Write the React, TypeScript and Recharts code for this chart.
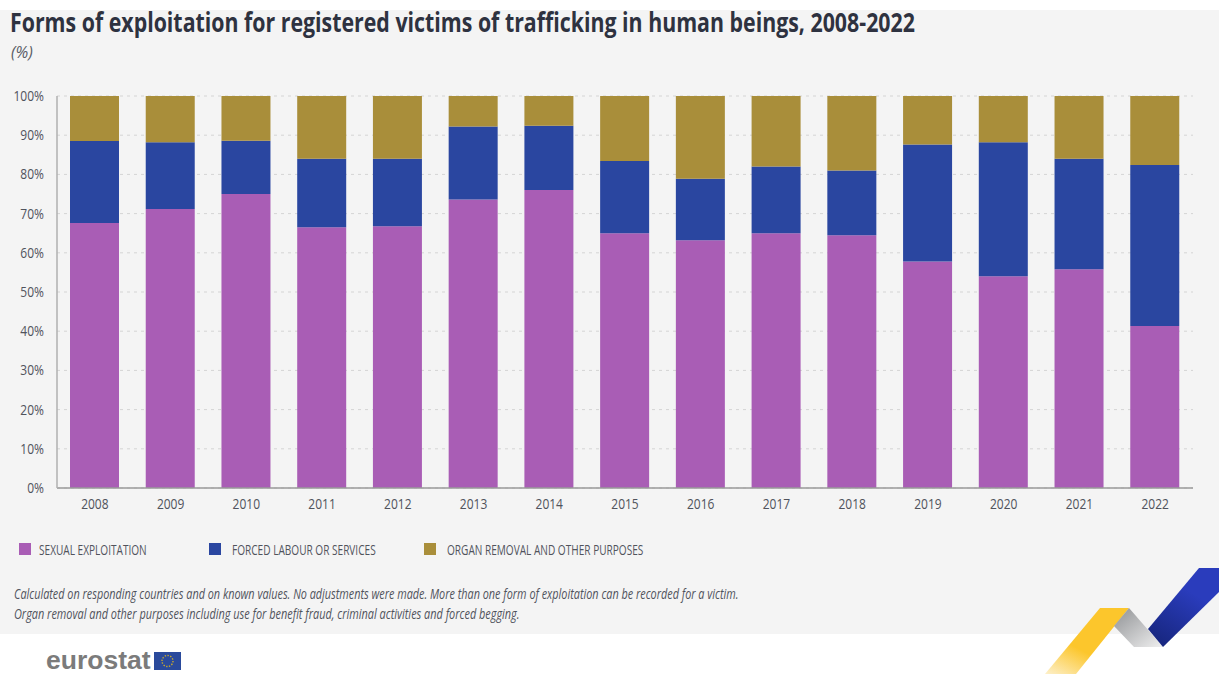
import React from "react";
import { BarChart, Bar, XAxis, YAxis, CartesianGrid, Legend } from "recharts";

const years = ["2008","2009","2010","2011","2012","2013","2014","2015","2016","2017","2018","2019","2020","2021","2022"];
const sexual = [67.6,71.2,75.0,66.5,66.8,73.6,76.0,65.0,63.2,65.0,64.5,57.8,54.0,55.8,41.3];
const forced = [20.9,17.0,13.6,17.5,17.2,18.6,16.4,18.4,15.7,17.0,16.5,29.8,34.2,28.2,41.1];
const organ = [11.5,11.8,11.4,16.0,16.0,7.8,7.6,16.6,21.1,18.0,19.0,12.4,11.8,16.0,17.6];
const yTicks = [0,10,20,30,40,50,60,70,80,90,100];

const SEXUAL_LABEL = "SEXUAL EXPLOITATION";
const FORCED_LABEL = "FORCED LABOUR OR SERVICES";
const ORGAN_LABEL = "ORGAN REMOVAL AND OTHER PURPOSES";
const TITLE = "Forms of exploitation for registered victims of trafficking in human beings, 2008-2022";
const UNIT = "(%)";
const NOTE_1 = "Calculated on responding countries and on known values. No adjustments were made. More than one form of exploitation can be recorded for a victim.";
const NOTE_2 = "Organ removal and other purposes including use for benefit fraud, criminal activities and forced begging.";

const rows = years.map((year, i) => ({ year, sexual: sexual[i], forced: forced[i], organ: organ[i] }));

const FONT = "'Open Sans', sans-serif";
const legendLeft = [19, 209, 424];
const legendGap = [8, 11, 11];

// The house typeface is condensed, so text is narrowed horizontally.
const narrow = (k: number): React.CSSProperties => ({
  transform: `scaleX(${k})`,
  transformOrigin: "left center",
  display: "inline-block",
  whiteSpace: "nowrap",
});

function XTick({ x, y, payload }: any) {
  return (
    <text transform={`translate(${x},${y + 13}) scale(0.8,1)`} textAnchor="middle" fontFamily={FONT} fontSize={15} fill="#50535c">
      {payload.value}
    </text>
  );
}

function YTick({ x, y, payload }: any) {
  return (
    <text transform={`translate(${x - 5},${y + 5}) scale(0.8,1)`} textAnchor="end" fontFamily={FONT} fontSize={15} fill="#50535c">
      {`${payload.value}%`}
    </text>
  );
}

// Legend entries sit at fixed columns below the axis.
function LegendRow({ payload }: any) {
  return (
    <div style={{ position: "relative", height: 16, width: 900 }}>
      {(payload || []).map((item: any, i: number) => (
        <div key={item.value} style={{ position: "absolute", left: legendLeft[i], top: 0, display: "flex", alignItems: "center", height: 16 }}>
          <span style={{ width: 12, height: 12, background: item.color, display: "block", marginRight: legendGap[i] }} />
          <span style={{ fontFamily: FONT, fontSize: 14, color: "#50535c", ...narrow(0.72) }}>{item.value}</span>
        </div>
      ))}
    </div>
  );
}

export default function App() {
  return (
    <div style={{ position: "absolute", left: 0, top: 0, width: 1219, height: 674, background: "#ffffff", overflow: "hidden" }}>
      <div style={{ position: "absolute", left: 0, top: 10, width: 1219, height: 624, background: "#f4f4f4" }} />
      <div style={{ position: "absolute", left: 10, top: 4, fontFamily: FONT, fontWeight: 700, fontSize: 26.5, color: "#2e3240", ...narrow(0.805) }}>{TITLE}</div>
      <div style={{ position: "absolute", left: 11, top: 41, fontFamily: FONT, fontStyle: "italic", fontSize: 16, color: "#5a5d66" }}>{UNIT}</div>

      <div style={{ position: "absolute", left: 0, top: 0 }}>
        <BarChart
          width={1219}
          height={674}
          data={rows}
          barSize={49}
          margin={{ top: 96, left: 7, right: 26, bottom: 140 }}
          style={{ background: "transparent" }}
        >
          <CartesianGrid vertical={false} stroke="#d4d4d4" strokeDasharray="3 4" />
          <XAxis dataKey="year" height={30} tickLine={false} axisLine={{ stroke: "#9a9a9a", strokeWidth: 1.5 }} interval={0} tick={<XTick />} />
          <YAxis width={50} domain={[0, 100]} ticks={yTicks} tickLine={false} axisLine={{ stroke: "#b0b0b0", strokeWidth: 1.5 }} interval={0} tick={<YTick />} />
          <Legend content={<LegendRow />} itemSorter={null} wrapperStyle={{ left: 0, top: 541, width: 900 }} />
          <Bar dataKey="sexual" name={SEXUAL_LABEL} stackId="a" fill="#a95db5" isAnimationActive={false} />
          <Bar dataKey="forced" name={FORCED_LABEL} stackId="a" fill="#2a46a0" isAnimationActive={false} />
          <Bar dataKey="organ" name={ORGAN_LABEL} stackId="a" fill="#a98e3a" isAnimationActive={false} />
        </BarChart>
      </div>

      <div style={{ position: "absolute", left: 14, top: 584, fontFamily: FONT, fontStyle: "italic", fontSize: 14, lineHeight: "20px", color: "#50535c", whiteSpace: "nowrap" }}>
        <div style={narrow(0.775)}>{NOTE_1}</div>
        <div />
        <div style={narrow(0.779)}>{NOTE_2}</div>
      </div>

      <div style={{ position: "absolute", left: 46, top: 645, fontFamily: "'Liberation Sans', sans-serif", fontWeight: 700, fontSize: 26.5, lineHeight: "30px", color: "#7b7b7b" }}>eurostat</div>

      <svg width={1219} height={674} style={{ position: "absolute", left: 0, top: 0, pointerEvents: "none" }}>
        <defs>
          <linearGradient id="ribbonYellow" x1="0.3" y1="0.55" x2="0" y2="1">
            <stop offset="0" stopColor="#fcc62c" />
            <stop offset="1" stopColor="#fdf0cb" />
          </linearGradient>
          <linearGradient id="ribbonGrey" x1="0" y1="0" x2="1" y2="1">
            <stop offset="0" stopColor="#8f9194" />
            <stop offset="1" stopColor="#f0f0f0" />
          </linearGradient>
          <linearGradient id="ribbonBlue" x1="0.6" y1="0.3" x2="0.2" y2="1">
            <stop offset="0" stopColor="#2a3cbc" />
            <stop offset="1" stopColor="#17267e" />
          </linearGradient>
        </defs>
        <polygon points="1100,608 1129,608 1076,674 1045,674" fill="url(#ribbonYellow)" />
        <polygon points="1129,608 1114,626 1134,647 1163,647" fill="url(#ribbonGrey)" />
        <polygon points="1199,568 1219,568 1219,592 1163,647 1148,629" fill="url(#ribbonBlue)" />
        {/* EU flag beside the wordmark */}
        <rect x={154} y={652} width={27} height={18} fill="#2a4a9c" />
        <circle cx={167.5} cy={661} r={5.5} fill="none" stroke="#c9a92e" strokeWidth={1.4} strokeDasharray="1.4 1.4" />
      </svg>
    </div>
  );
}
